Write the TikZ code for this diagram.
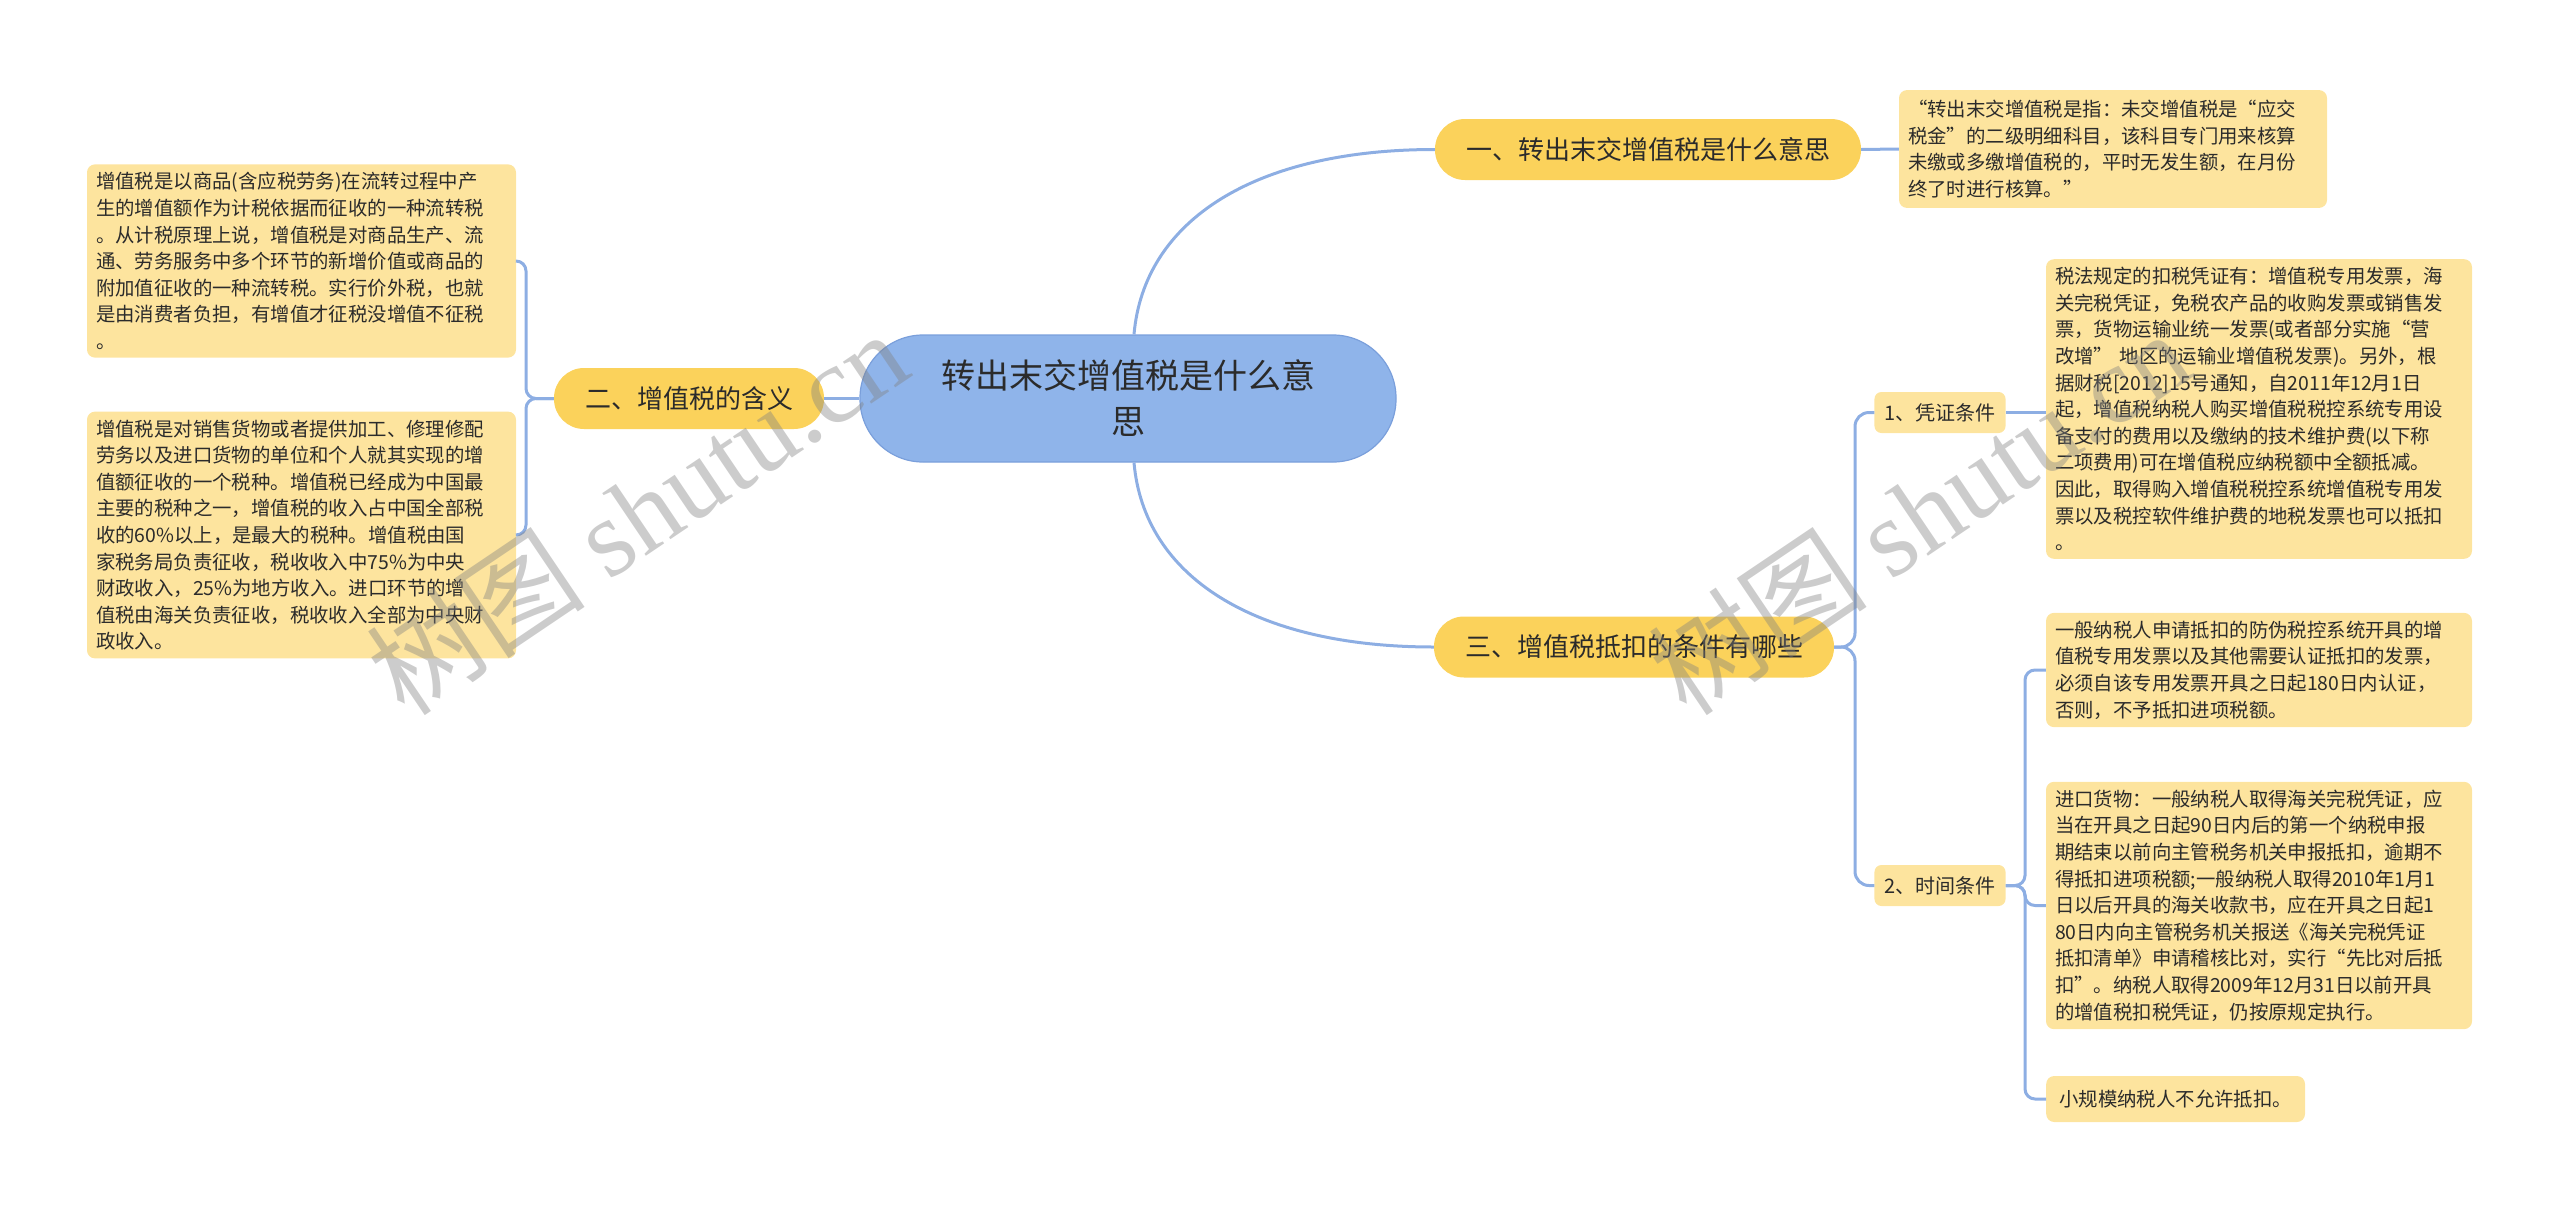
\documentclass[tikz,border=0pt]{standalone}
\usepackage{fontspec}
\setmainfont{Noto Sans CJK SC}
\newfontfamily\wmlatin{Liberation Serif}
\usetikzlibrary{calc}
\definecolor{centralfill}{HTML}{8FB4EA}
\definecolor{centralline}{HTML}{7A9FDB}
\definecolor{branchfill}{HTML}{FBD25B}
\definecolor{leaffill}{HTML}{FDE49E}
\definecolor{connblue}{HTML}{8DAEE3}
\definecolor{txt}{HTML}{2B2B2B}
\tikzset{
  x=1pt,y=-1pt,
  centralbox/.style={draw=centralline,line width=1.2pt,fill=centralfill,rounded corners=63pt,
    minimum width=536pt,minimum height=127pt,align=center,text width=420pt,text=txt,
    font=\fontsize{34}{46}\selectfont},
  branchbox/.style={fill=branchfill,rounded corners=30pt,minimum height=61pt,inner xsep=31pt,
    text=txt,font=\fontsize{26}{30}\selectfont},
  subbox/.style={fill=leaffill,rounded corners=7pt,minimum height=41pt,inner xsep=10pt,
    text=txt,font=\fontsize{20}{24}\selectfont},
  leafbox/.style={fill=leaffill,rounded corners=8pt,inner xsep=9pt,inner ysep=8pt,align=left,
    text=txt,font=\fontsize{19.4}{26.6}\selectfont},
  conn/.style={draw=connblue,line width=3pt},
  watermark/.style={text=gray,opacity=0.4,rotate=34,font=\fontsize{110}{120}\selectfont}
}
\begin{document}
\begin{tikzpicture}
\useasboundingbox (0,0) rectangle (2560,1210);
% central
\node[centralbox] (c) at (1128,398.5) {转出末交增值税是什么意\\思};
% branches
\node[branchbox] (b1) at (1648,149.5) {一、转出末交增值税是什么意思};
\node[branchbox] (b2) at (689,398.5) {二、增值税的含义};
\node[branchbox] (b3) at (1634,647) {三、增值税抵扣的条件有哪些};
% sub nodes
\node[subbox] (s1) at (1940,412.5) {1、凭证条件};
\node[subbox] (s2) at (1940,885.5) {2、时间条件};
% leaves
\node[leafbox,text width=410pt,inner ysep=10pt] (l1) at (2113,149) {“转出末交增值税是指：未交增值税是“应交\\税金”的二级明细科目，该科目专门用来核算\\未缴或多缴增值税的，平时无发生额，在月份\\终了时进行核算。”};
\node[leafbox,text width=411pt] (l2a) at (301.5,261) {增值税是以商品(含应税劳务)在流转过程中产\\生的增值额作为计税依据而征收的一种流转税\\。从计税原理上说，增值税是对商品生产、流\\通、劳务服务中多个环节的新增价值或商品的\\附加值征收的一种流转税。实行价外税，也就\\是由消费者负担，有增值才征税没增值不征税\\。};
\node[leafbox,text width=411pt] (l2b) at (301.5,535) {增值税是对销售货物或者提供加工、修理修配\\劳务以及进口货物的单位和个人就其实现的增\\值额征收的一个税种。增值税已经成为中国最\\主要的税种之一，增值税的收入占中国全部税\\收的60\%以上，是最大的税种。增值税由国\\家税务局负责征收，税收收入中75\%为中央\\财政收入，25\%为地方收入。进口环节的增\\值税由海关负责征收，税收收入全部为中央财\\政收入。};
\node[leafbox,text width=408pt] (l31) at (2259,409) {税法规定的扣税凭证有：增值税专用发票，海\\关完税凭证，免税农产品的收购发票或销售发\\票，货物运输业统一发票(或者部分实施“营\\改增” 地区的运输业增值税发票)。另外，根\\据财税[2012]15号通知，自2011年12月1日\\起，增值税纳税人购买增值税税控系统专用设\\备支付的费用以及缴纳的技术维护费(以下称\\二项费用)可在增值税应纳税额中全额抵减。\\因此，取得购入增值税税控系统增值税专用发\\票以及税控软件维护费的地税发票也可以抵扣\\。};
\node[leafbox,text width=408pt] (l32a) at (2259,670) {一般纳税人申请抵扣的防伪税控系统开具的增\\值税专用发票以及其他需要认证抵扣的发票，\\必须自该专用发票开具之日起180日内认证，\\否则，不予抵扣进项税额。};
\node[leafbox,text width=408pt] (l32b) at (2259,905.5) {进口货物：一般纳税人取得海关完税凭证，应\\当在开具之日起90日内后的第一个纳税申报\\期结束以前向主管税务机关申报抵扣，逾期不\\得抵扣进项税额;一般纳税人取得2010年1月1\\日以后开具的海关收款书，应在开具之日起1\\80日内向主管税务机关报送《海关完税凭证\\抵扣清单》申请稽核比对，实行“先比对后抵\\扣”。纳税人取得2009年12月31日以前开具\\的增值税扣税凭证，仍按原规定执行。};
\node[leafbox,anchor=west,inner xsep=13pt,minimum height=46pt] (l32c) at (2046,1099) {小规模纳税人不允许抵扣。};
% connectors
\coordinate (ct) at ($(c.north)+(6,0)$);
\coordinate (cb) at ($(c.south)+(6,0)$);
\coordinate (j2) at (526,398.5);
\coordinate (j3) at (1855,647);
\coordinate (j32) at (2025,885.5);
\draw[conn] (ct) .. controls (1144,220) and (1255,149.5) .. (b1.west);
\draw[conn] (cb) .. controls (1144,577) and (1255,647) .. (b3.west);
\draw[conn] (c.west) -- (b2.east);
\draw[conn] (b1.east) -- (l1.west);
\draw[conn,rounded corners=10pt] (b2.west) -- (j2) |- (l2a.east);
\draw[conn,rounded corners=10pt] (b2.west) -- (j2) |- (l2b.east);
\draw[conn,rounded corners=14pt] (b3.east) -- (j3) |- (s1.west);
\draw[conn,rounded corners=14pt] (b3.east) -- (j3) |- (s2.west);
\draw[conn] (s1.east) -- (s1.east -| l31.west);
\draw[conn,rounded corners=10pt] (s2.east) -- (j32) |- (l32a.west);
\draw[conn,rounded corners=10pt] (s2.east) -- (j32) |- (l32b.west);
\draw[conn,rounded corners=10pt] (s2.east) -- (j32) |- (l32c.west);
% watermarks
\node[watermark] (wm1) at (637,512) {树图 {\wmlatin shutu.cn}};
\node[watermark] (wm2) at (1919,512) {树图 {\wmlatin shutu.cn}};
\end{tikzpicture}
\end{document}
